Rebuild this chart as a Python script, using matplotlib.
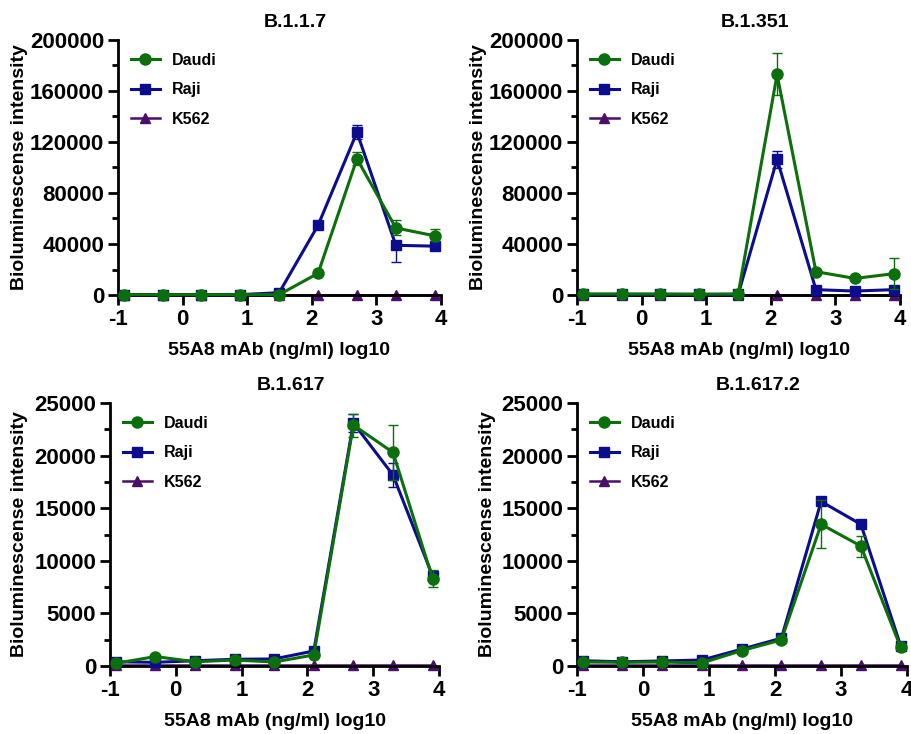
import matplotlib
matplotlib.use("Agg")
import matplotlib.pyplot as plt
from matplotlib.ticker import MultipleLocator
from matplotlib.lines import Line2D

plt.rcParams['font.family'] = ['Liberation Sans', 'DejaVu Sans']
plt.rcParams['font.weight'] = 'bold'
plt.rcParams['axes.unicode_minus'] = False

# log10 of mAb concentration (ng/ml)
x_log = [-0.913, -0.311, 0.291, 0.893, 1.495, 2.097, 2.699, 3.301, 3.903]

titles = ["B.1.1.7", "B.1.351", "B.1.617", "B.1.617.2"]
series_names = ["Daudi", "Raji", "K562"]

# B.1.1.7
b117_daudi = [300, 300, 300, 300, 300, 17000, 106800, 52600, 46400]
b117_daudi_lo = [0, 0, 0, 0, 0, 1000, 5000, 5500, 4000]
b117_daudi_hi = [0, 0, 0, 0, 0, 1000, 5000, 6500, 5000]
b117_raji = [300, 300, 300, 300, 1800, 54700, 127600, 39000, 38300]
b117_raji_lo = [0, 0, 0, 0, 0, 1500, 5500, 13000, 2500]
b117_raji_hi = [0, 0, 0, 0, 0, 1500, 5500, 1500, 2500]
b117_k562 = [200, 200, 200, 200, 200, 200, 200, 200, 200]

# B.1.351
b1351_daudi = [800, 800, 800, 600, 800, 173000, 18300, 13000, 16700]
b1351_daudi_lo = [0, 0, 0, 0, 0, 16500, 1500, 1500, 12000]
b1351_daudi_hi = [0, 0, 0, 0, 0, 16500, 1500, 1500, 12000]
b1351_raji = [500, 500, 500, 500, 500, 106400, 4200, 3100, 4200]
b1351_raji_lo = [0, 0, 0, 0, 0, 6500, 800, 800, 3000]
b1351_raji_hi = [0, 0, 0, 0, 0, 6500, 800, 800, 3000]
b1351_k562 = [300, 300, 300, 300, 300, 300, 300, 300, 300]

# B.1.617
b1617_daudi = [250, 900, 400, 570, 380, 1050, 22900, 20300, 8300]
b1617_daudi_lo = [50, 100, 50, 50, 50, 100, 1100, 2600, 800]
b1617_daudi_hi = [50, 100, 50, 50, 50, 100, 1100, 2600, 800]
b1617_raji = [400, 350, 500, 640, 670, 1430, 23100, 18150, 8550]
b1617_raji_lo = [50, 50, 50, 50, 50, 100, 900, 1100, 500]
b1617_raji_hi = [50, 50, 50, 50, 50, 100, 900, 1100, 500]
b1617_k562 = [100, 100, 100, 100, 100, 100, 100, 100, 100]

# B.1.617.2
b16172_daudi = [380, 350, 380, 290, 1460, 2480, 13470, 11400, 1780]
b16172_daudi_lo = [50, 50, 50, 50, 100, 150, 2300, 1000, 150]
b16172_daudi_hi = [50, 50, 50, 50, 100, 150, 2300, 1000, 150]
b16172_raji = [500, 400, 480, 570, 1600, 2640, 15640, 13470, 1940]
b16172_raji_lo = [50, 50, 50, 50, 100, 150, 300, 300, 150]
b16172_raji_hi = [50, 50, 50, 50, 100, 150, 300, 300, 150]
b16172_k562 = [80, 80, 80, 80, 80, 80, 80, 80, 80]

panels = [
    (b117_daudi, b117_daudi_lo, b117_daudi_hi, b117_raji, b117_raji_lo, b117_raji_hi, b117_k562),
    (b1351_daudi, b1351_daudi_lo, b1351_daudi_hi, b1351_raji, b1351_raji_lo, b1351_raji_hi, b1351_k562),
    (b1617_daudi, b1617_daudi_lo, b1617_daudi_hi, b1617_raji, b1617_raji_lo, b1617_raji_hi, b1617_k562),
    (b16172_daudi, b16172_daudi_lo, b16172_daudi_hi, b16172_raji, b16172_raji_lo, b16172_raji_hi, b16172_k562),
]

y_max = [200000, 200000, 25000, 25000]
y_major = [40000, 40000, 5000, 5000]
y_minor = [20000, 20000, 2500, 2500]

green = "#0b6f0b"
blue = "#0c0c8e"
purple = "#4a0f68"

fig = plt.figure(figsize=(9.11, 7.34), dpi=100)
rects = [
    [118/911, 1-295/734, 323/911, 255/734],
    [577/911, 1-295/734, 323/911, 255/734],
    [110/911, 1-666/734, 329/911, 263/734],
    [577/911, 1-666/734, 330/911, 263/734],
]
ylab_x = [-0.279, -0.279, -0.249, -0.245]

for i, rect in enumerate(rects):
    ax = fig.add_axes(rect)
    d, dlo, dhi, r, rlo, rhi, k = panels[i]
    ax.plot(x_log, k, color=purple, marker="^", markersize=7, lw=1.8,
            zorder=2, clip_on=False)
    ax.errorbar(x_log, r, yerr=[rlo, rhi], color=blue, marker="s", markersize=7.5, lw=2.2,
                capsize=3.5, elinewidth=1.0, capthick=1.0, zorder=3, clip_on=False)
    ax.errorbar(x_log, d, yerr=[dlo, dhi], color=green, marker="o", markersize=8, lw=2.2,
                capsize=3.5, elinewidth=1.0, capthick=1.0, zorder=4, clip_on=False)
    ax.set_xlim(-1, 4)
    ax.set_ylim(0, y_max[i])
    ax.xaxis.set_major_locator(MultipleLocator(1))
    ax.yaxis.set_major_locator(MultipleLocator(y_major[i]))
    ax.yaxis.set_minor_locator(MultipleLocator(y_minor[i]))
    for s in ["top", "right"]:
        ax.spines[s].set_visible(False)
    for s in ["left", "bottom"]:
        ax.spines[s].set_linewidth(2.0)
    ax.tick_params(axis="both", which="major", length=7, width=2.0, labelsize=16, pad=3)
    ax.tick_params(axis="y", which="minor", length=4, width=2.0)
    for lab in ax.get_xticklabels() + ax.get_yticklabels():
        lab.set_fontweight("bold")
    ax.set_ylabel("Bioluminescense intensity", fontsize=14, fontweight="bold")
    ax.yaxis.set_label_coords(ylab_x[i], 0.5)
    ax.set_xlabel("55A8 mAb (ng/ml) log10", fontsize=14, fontweight="bold", labelpad=9)
    ax.set_title(titles[i], fontsize=14, fontweight="bold", x=0.55, pad=9)
    handles = [
        Line2D([], [], color=green, marker="o", markersize=8, lw=2.2),
        Line2D([], [], color=blue, marker="s", markersize=7.5, lw=2.2),
        Line2D([], [], color=purple, marker="^", markersize=7, lw=1.8),
    ]
    ax.legend(handles, series_names, loc="upper left", bbox_to_anchor=(0.0, 1.0),
              frameon=False, prop={"weight": "bold", "size": 11.5}, handlelength=1.8,
              labelspacing=0.9, borderaxespad=0.4)

fig.savefig("out.png", dpi=100)
